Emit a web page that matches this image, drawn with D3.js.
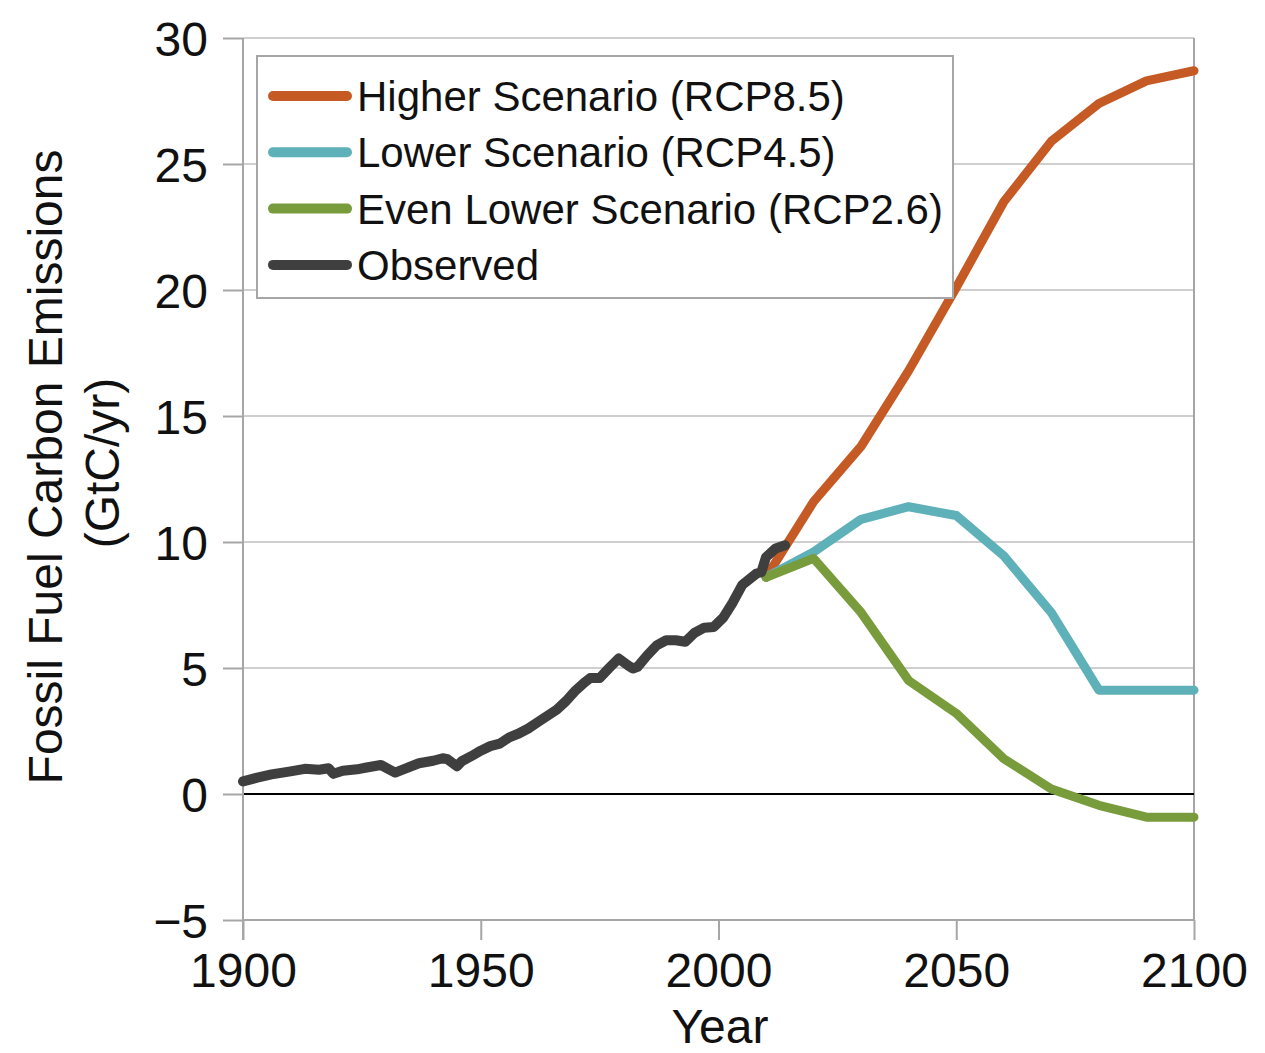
<!DOCTYPE html>
<html>
<head>
<meta charset="utf-8">
<script src="https://cdnjs.cloudflare.com/ajax/libs/d3/7.8.5/d3.min.js"></script>
<style>
body{margin:0;background:#fff;}
text{font-family:"Liberation Sans",Arial,Helvetica,sans-serif;fill:#111;}
</style>
</head>
<body>
<div id="chart"></div>
<script>
// observed fossil fuel emissions (GtC/yr)
var obsYears=[1900,1903,1906,1910,1913,1916,1918,1919,1921,1924,1926,1929,1932,1934,1937,1940,1942,1943,1945,1946,1948,
1950,1952,1954,1956,1958,1960,1962,1964,1966,1968,1970,1972,1973,1975,1977,1979,1981,1982,1983,1985,1987,1989,1991,1993,
1995,1997,1999,2001,2003,2005,2008,2009,2010,2012,2014];
var obsValues=[0.50,0.65,0.78,0.90,1.0,0.96,1.02,0.80,0.92,0.98,1.05,1.15,0.85,1.00,1.22,1.32,1.42,1.38,1.10,1.30,1.50,
1.72,1.90,2.00,2.25,2.40,2.60,2.85,3.10,3.35,3.70,4.12,4.45,4.60,4.60,5.00,5.38,5.10,4.98,5.05,5.50,5.90,6.10,6.10,6.04,
6.40,6.60,6.63,7.00,7.60,8.30,8.75,8.80,9.40,9.74,9.87];

// scenario projections
var scenYears=[2010,2020,2030,2040,2050,2060,2070,2080,2090,2100];
var rcp85=[8.6,11.6,13.8,16.8,20.1,23.5,25.9,27.4,28.3,28.7];
var rcp45=[8.6,9.6,10.9,11.4,11.05,9.45,7.2,4.12,4.12,4.12];
var rcp26=[8.6,9.35,7.2,4.5,3.2,1.4,0.2,-0.45,-0.92,-0.92];

var legendLabels=["Higher Scenario (RCP8.5)","Lower Scenario (RCP4.5)","Even Lower Scenario (RCP2.6)","Observed"];
var colors=["#c55a25","#5eb0b9","#789b3c","#3f3f3f"];
var yTicks=[-5,0,5,10,15,20,25,30];
var xTicks=[1900,1950,2000,2050,2100];

var W=1265,H=1053;
var x=d3.scaleLinear().domain([1900,2100]).range([243,1194]);
var y=d3.scaleLinear().domain([-5,30]).range([920,38]);

var svg=d3.select("#chart").append("svg")
	.attr("width",W)
	.attr("height",H);

// gridlines
svg.append("g").selectAll("line")
	.data(yTicks.filter(function(d){return d>-5 && d!=0;}))
	.enter().append("line")
	.attr("x1",x(1900)).attr("x2",x(2100))
	.attr("y1",function(d){return y(d);})
	.attr("y2",function(d){return y(d);})
	.attr("stroke","#cfcfcf")
	.attr("stroke-width",2);

// right border
svg.append("line")
	.attr("x1",x(2100)).attr("x2",x(2100))
	.attr("y1",y(30)).attr("y2",y(-5))
	.attr("stroke","#a6a6a6").attr("stroke-width",2);

// zero line
svg.append("line")
	.attr("x1",x(1900)).attr("x2",x(2100))
	.attr("y1",y(0)).attr("y2",y(0))
	.attr("stroke","#000").attr("stroke-width",2);

// y axis
var yAxis=d3.axisLeft(y).tickValues(yTicks).tickSize(20).tickPadding(15)
	.tickFormat(function(d){return d<0?"\u2212"+Math.abs(d):d;});
var gy=svg.append("g").attr("transform","translate("+x(1900)+",0)").call(yAxis);

// x axis sits at -5
var xAxis=d3.axisBottom(x).tickValues(xTicks).tickSize(20).tickPadding(11).tickFormat(d3.format("d"));
var gx=svg.append("g").attr("transform","translate(0,"+y(-5)+")").call(xAxis);

gy.select(".domain").attr("d","M0,"+y(30)+"V"+(y(-5)+20));
gx.select(".domain").attr("d","M"+x(1900)+",0H"+x(2100));
[gx,gy].forEach(function(g){
	g.selectAll(".domain").attr("stroke","#a6a6a6").attr("stroke-width",2);
	g.selectAll(".tick line").attr("stroke","#a6a6a6").attr("stroke-width",2);
	g.selectAll(".tick text").attr("font-size",48).attr("fill","#111")
	 .attr("font-family","'Liberation Sans',Arial,sans-serif");
});
gy.selectAll(".tick text").attr("dy","0.36em");
gx.selectAll(".tick text").attr("dy","0.76em");

// axis titles
svg.append("text")
	.attr("x",720).attr("y",1043)
	.attr("text-anchor","middle")
	.attr("font-size",48)
	.text("Year");

svg.append("text")
	.attr("transform","translate(62,467) rotate(-90)")
	.attr("text-anchor","middle")
	.attr("font-size",48)
	.text("Fossil Fuel Carbon Emissions");
svg.append("text")
	.attr("transform","translate(119,463) rotate(-90)")
	.attr("text-anchor","middle")
	.attr("font-size",48)
	.text("(GtC/yr)");

// series
var line=d3.line()
	.x(function(d){return x(d[0]);})
	.y(function(d){return y(d[1]);});

function addseries(years,vals,c,w){
	svg.append("path")
		.datum(d3.zip(years,vals))
		.attr("d",line)
		.attr("fill","none")
		.attr("stroke",c)
		.attr("stroke-width",w)
		.attr("stroke-linejoin","round")
		.attr("stroke-linecap","round");
}
addseries(scenYears,rcp85,colors[0],9);
addseries(scenYears,rcp45,colors[1],9);
addseries(scenYears,rcp26,colors[2],9);
addseries(obsYears,obsValues,colors[3],10);

// legend
var lg=svg.append("g");
lg.append("rect")
	.attr("x",257).attr("y",56)
	.attr("width",696).attr("height",242)
	.attr("fill","#fff")
	.attr("stroke","#a6a6a6")
	.attr("stroke-width",2);
var rows=lg.selectAll("g.row").data(legendLabels).enter().append("g")
	.attr("transform",function(d,i){return "translate(0,"+(96+i*56.3)+")";});
rows.append("line")
	.attr("x1",273).attr("x2",347)
	.attr("y1",0).attr("y2",0)
	.attr("stroke",function(d,i){return colors[i];})
	.attr("stroke-width",10)
	.attr("stroke-linecap","round");
rows.append("text")
	.attr("x",357).attr("y",0)
	.attr("dy","0.36em")
	.attr("font-size",42)
	.text(function(d){return d;});
</script>
</body>
</html>
